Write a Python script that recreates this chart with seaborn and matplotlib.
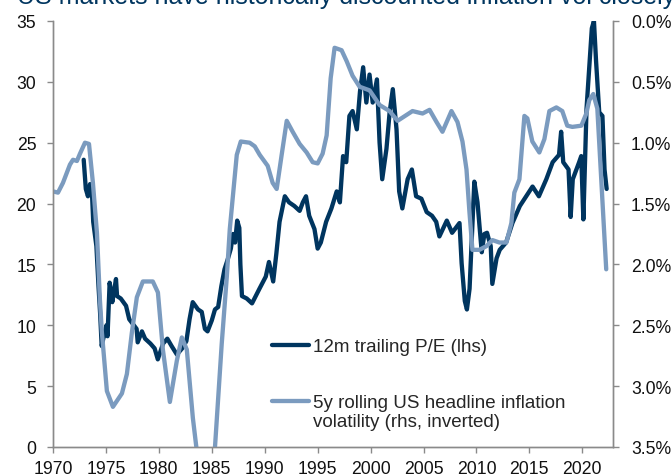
import numpy as np
import pandas as pd
import seaborn as sns
import matplotlib.pyplot as plt
from matplotlib.ticker import FuncFormatter
from matplotlib.legend_handler import HandlerLine2D

# 12m trailing P/E (left axis)
pe_years = [1972.9, 1973.1, 1973.3, 1973.5, 1973.7, 1973.8, 1974.1, 1974.3, 1974.45, 1974.6,
            1974.75, 1975.05, 1975.15, 1975.35, 1975.5, 1975.6, 1975.95, 1976.05, 1976.4, 1976.9,
            1977.2, 1977.9, 1978.0, 1978.4, 1978.7, 1979.2, 1979.6, 1979.9, 1980.4, 1980.8,
            1981.2, 1981.7, 1982.2, 1982.6, 1982.9, 1983.2, 1983.7, 1984.05, 1984.35, 1984.6,
            1985.0, 1985.3, 1985.6, 1985.9, 1986.2, 1986.5, 1986.8, 1987.0, 1987.2, 1987.4,
            1987.6, 1987.7, 1987.85, 1988.3, 1988.8, 1989.5, 1990.1, 1990.4, 1990.8, 1991.1,
            1991.4, 1991.9, 1992.3, 1992.8, 1993.3, 1993.6, 1993.9, 1994.2, 1994.7, 1995.0,
            1995.3, 1995.8, 1996.3, 1996.8, 1997.1, 1997.4, 1997.7, 1998.0, 1998.3, 1998.7,
            1999.0, 1999.3, 1999.6, 1999.9, 2000.2, 2000.6, 2000.85, 2001.1, 2001.5, 2001.8,
            2002.1, 2002.45, 2002.7, 2003.0, 2003.5, 2003.9, 2004.3, 2004.8, 2005.3, 2005.8,
            2006.2, 2006.5, 2007.2, 2007.7, 2008.4, 2008.6, 2008.9, 2009.1, 2009.35, 2009.6,
            2009.8, 2010.1, 2010.5, 2010.75, 2011.0, 2011.35, 2011.5, 2011.9, 2012.2, 2012.8,
            2013.4, 2014.1, 2014.7, 2015.3, 2015.9, 2016.6, 2017.2, 2017.8, 2018.0, 2018.2,
            2018.7, 2018.9, 2019.1, 2019.7, 2019.9, 2020.1, 2020.4, 2020.7, 2020.9, 2021.1,
            2021.3, 2021.6, 2021.9, 2022.1, 2022.3]
pe_values = [23.6, 21.2, 20.6, 21.6, 20.5, 18.5, 16.5, 13.2, 11.0, 8.3,
             8.9, 10.0, 9.1, 13.5, 12.7, 11.9, 13.8, 12.4, 12.2, 11.6,
             10.5, 9.7, 8.6, 9.5, 8.9, 8.5, 8.1, 7.2, 8.5, 8.9,
             8.3, 7.6, 8.1, 8.7, 10.5, 11.9, 11.3, 11.1, 9.7, 9.5,
             10.4, 11.3, 11.5, 13.2, 14.6, 15.4, 16.3, 17.5, 16.8, 18.6,
             18.0, 15.0, 12.4, 12.2, 11.8, 13.0, 14.0, 15.2, 13.6, 15.9,
             18.5, 20.6, 20.1, 19.8, 19.4, 20.1, 20.6, 19.0, 17.9, 16.3,
             16.8, 18.5, 19.6, 21.0, 20.1, 23.9, 23.4, 27.2, 27.6, 26.1,
             29.2, 31.2, 28.3, 30.6, 28.3, 30.2, 25.0, 22.0, 24.5, 27.5,
             29.4, 26.1, 21.0, 19.6, 22.0, 22.8, 20.6, 20.4, 19.3, 19.0,
             18.5, 17.3, 18.6, 17.6, 18.4, 15.1, 12.0, 11.3, 13.0, 18.0,
             21.8, 20.1, 16.0, 17.5, 17.6, 16.5, 13.4, 15.5, 16.2, 16.8,
             18.4, 19.8, 20.6, 21.4, 20.6, 22.0, 23.4, 24.0, 25.9, 23.4,
             22.8, 18.9, 22.0, 23.4, 23.9, 18.7, 27.8, 31.7, 34.4, 35.0,
             31.7, 27.5, 27.2, 22.8, 21.2]

# 5y rolling US headline inflation volatility, % (right axis, inverted)
vol_years = [1970.0, 1970.47, 1970.94, 1971.6, 1971.89, 1972.26, 1972.55, 1973.02, 1973.4, 1973.77,
             1974.15, 1974.43, 1974.62, 1975.09, 1975.66, 1976.51, 1976.98, 1977.45, 1977.92, 1978.49,
             1979.43, 1979.91, 1980.38, 1981.04, 1981.7, 1982.17, 1982.64, 1983.21, 1983.58, 1984.43,
             1985.28, 1985.94, 1986.42, 1986.7, 1987.36, 1987.74, 1988.58, 1989.06, 1989.53, 1990.28,
             1990.75, 1991.13, 1991.6, 1992.08, 1992.64, 1993.3, 1993.96, 1994.53, 1995.0, 1995.47,
             1995.85, 1996.23, 1996.6, 1997.26, 1997.74, 1998.3, 1998.96, 1999.91, 2000.85, 2001.79,
             2002.55, 2003.96, 2004.91, 2005.57, 2006.23, 2006.79, 2007.64, 2008.21, 2008.68, 2009.06,
             2009.34, 2009.62, 2010.28, 2010.94, 2011.51, 2012.17, 2012.83, 2013.3, 2013.58, 2014.06,
             2014.53, 2014.81, 2015.28, 2015.94, 2016.42, 2016.89, 2017.55, 2018.11, 2018.58, 2019.06,
             2019.91, 2020.38, 2020.66, 2021.04, 2021.42, 2022.26]
vol_values = [1.40, 1.41, 1.33, 1.18, 1.14, 1.15, 1.09, 1.00, 1.01, 1.33,
              1.74, 2.29, 2.56, 3.04, 3.17, 3.06, 2.90, 2.56, 2.27, 2.14,
              2.14, 2.23, 2.70, 3.13, 2.79, 2.60, 2.70, 3.26, 3.53, 4.00,
              3.53, 2.65, 2.10, 1.71, 1.10, 0.99, 1.00, 1.03, 1.10, 1.19,
              1.33, 1.38, 1.10, 0.82, 0.91, 1.01, 1.08, 1.16, 1.17, 1.09,
              0.94, 0.47, 0.22, 0.24, 0.33, 0.45, 0.54, 0.57, 0.69, 0.74,
              0.82, 0.74, 0.76, 0.73, 0.83, 0.91, 0.74, 0.83, 0.99, 1.22,
              1.57, 1.88, 1.88, 1.85, 1.80, 1.82, 1.82, 1.66, 1.41, 1.30,
              0.78, 0.80, 0.99, 1.08, 0.97, 0.74, 0.71, 0.74, 0.86, 0.87,
              0.86, 0.76, 0.65, 0.60, 0.72, 2.04]

x_ticks = list(range(1970, 2021, 5))
pe_ticks = list(range(0, 36, 5))
vol_ticks = [0.0, 0.5, 1.0, 1.5, 2.0, 2.5, 3.0, 3.5]

title = 'US markets have historically discounted inflation vol closely'
pe_label = '12m trailing P/E (lhs)'
vol_label = '5y rolling US headline inflation\nvolatility (rhs, inverted)'

NAVY = '#00355f'
LIGHT = '#7b9bbf'
GREY = '#8a8a8a'


class FirstLineHandler(HandlerLine2D):
    # put the legend line next to the first line of a two-line label
    def create_artists(self, legend, orig_handle, xdescent, ydescent,
                       width, height, fontsize, trans):
        arts = super().create_artists(legend, orig_handle, xdescent, ydescent,
                                      width, height, fontsize, trans)
        for a in arts:
            a.set_ydata(np.asarray(a.get_ydata()) + 0.58 * fontsize)
        return arts


sns.set_style('white')
plt.rcParams['font.family'] = ['Liberation Sans', 'DejaVu Sans']

fig = plt.figure(figsize=(6.72, 4.77), dpi=100)
ax = fig.add_axes([53 / 672, 1 - 448 / 477, 560 / 672, 426 / 477])
ax2 = ax.twinx()

pe_df = pd.DataFrame({'year': pe_years, 'pe': pe_values})
vol_df = pd.DataFrame({'year': vol_years, 'vol': vol_values})

sns.lineplot(data=pe_df, x='year', y='pe', ax=ax, color=NAVY, lw=3.1, legend=False)
sns.lineplot(data=vol_df, x='year', y='vol', ax=ax2, color=LIGHT, lw=3.1, legend=False)
for ln in ax.get_lines() + ax2.get_lines():
    ln.set_solid_joinstyle('round')
    ln.set_solid_capstyle('round')

ax.set_xlim(1970, 2022.9)
ax.set_ylim(0, 35)
ax2.set_ylim(3.5, 0)
ax.set_xticks(x_ticks)
ax.set_yticks(pe_ticks)
ax2.set_yticks(vol_ticks)
ax2.yaxis.set_major_formatter(FuncFormatter(lambda v, p: f'{v:.1f}%'))
ax.set_xlabel('')
ax.set_ylabel('')
ax2.set_ylabel('')

for a in (ax, ax2):
    a.spines['top'].set_visible(False)
    for s in ('left', 'right', 'bottom'):
        a.spines[s].set_color(GREY)
        a.spines[s].set_linewidth(1.0)
    a.grid(False)

ax.tick_params(axis='x', bottom=True, direction='out', length=4, width=1, color=GREY,
               labelsize=12.7, pad=5, labelcolor='#111111')
ax.tick_params(axis='y', left=True, direction='out', length=4, width=1, color=GREY,
               labelsize=12.7, pad=8, labelcolor='#111111')
ax2.tick_params(axis='y', right=True, direction='out', length=4, width=1, color=GREY,
                labelsize=12.7, pad=9, labelcolor='#111111')

pe_line = ax.get_lines()[0]
vol_line = ax2.get_lines()[0]
ax2.legend([pe_line, vol_line], [pe_label, vol_label], loc='upper left',
           bbox_to_anchor=(0.391, 0.256), frameon=False, fontsize=13.5,
           handlelength=2.0, handletextpad=0.2, labelspacing=2.05,
           borderaxespad=0, borderpad=0,
           handler_map={vol_line: FirstLineHandler()})

fig.text(17 / 672, 1 - 4 / 477, title, fontsize=18, color=NAVY, va='baseline', ha='left')

fig.savefig('out.png', dpi=100)
